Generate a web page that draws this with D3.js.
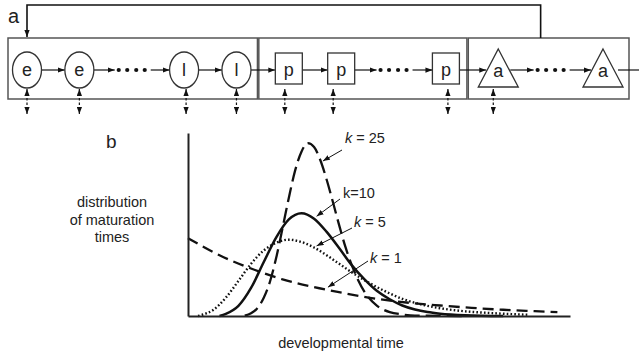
<!DOCTYPE html>
<html>
<head>
<meta charset="utf-8">
<script src="https://cdn.jsdelivr.net/npm/d3@7"></script>
<style>
  body { margin: 0; background: #fff; }
  text { font-family: "Liberation Sans", Arial, sans-serif; fill: #222; }
</style>
</head>
<body>
<div id="fig"></div>
<script>
// 1: DATA
// panel a: life-cycle stages
const stageLabels = ["e", "e", "", "l", "l", "p", "p", "", "p", "a", "", "a"];
const stageShapes = ["ellipse", "ellipse", "dots", "ellipse", "ellipse", "rect", "rect", "dots", "rect", "tri", "dots", "tri"];
const stageExchange = [1, 1, 0, 1, 1, 1, 1, 0, 1, 1, 0, 0];
const stageBoxes = [[0, 4], [5, 8], [9, 11]];

// panel b: distribution of maturation times (mean development time = 1)
const timeK1 = [0, 0.25, 0.5, 0.75, 1.0, 1.25, 1.5, 1.75, 2.0, 2.25, 2.5, 2.75, 2.93];
const densK1 = [1.00, 0.78, 0.61, 0.47, 0.37, 0.29, 0.22, 0.17, 0.135, 0.105, 0.08, 0.062, 0.05];

const timeK5 = [0.08, 0.1, 0.2, 0.3, 0.4, 0.5, 0.6, 0.7, 0.8, 0.9, 1.0, 1.1, 1.2, 1.3, 1.4, 1.5, 1.6, 1.7, 1.8, 1.9, 2.0, 2.2, 2.4, 2.6, 2.7];
const densK5 = [0, 0.01, 0.077, 0.235, 0.45, 0.67, 0.84, 0.94, 0.98, 0.95, 0.88, 0.78, 0.67, 0.56, 0.46, 0.37, 0.29, 0.22, 0.17, 0.13, 0.1, 0.06, 0.038, 0.022, 0.016];

const timeK10 = [0.25, 0.3, 0.4, 0.5, 0.6, 0.7, 0.8, 0.9, 1.0, 1.1, 1.2, 1.3, 1.4, 1.5, 1.6, 1.7, 1.8, 1.9, 2.0, 2.2, 2.5];
const densK10 = [0, 0.027, 0.13, 0.36, 0.69, 1.01, 1.24, 1.32, 1.25, 1.08, 0.87, 0.65, 0.47, 0.32, 0.215, 0.135, 0.083, 0.05, 0.03, 0.01, 0];

const timeK25 = [0.45, 0.5, 0.55, 0.6, 0.65, 0.7, 0.75, 0.8, 0.85, 0.9, 0.95, 1.0, 1.05, 1.1, 1.15, 1.2, 1.25, 1.3, 1.35, 1.4, 1.5, 1.6, 1.7, 1.8, 2.2];
const densK25 = [0.005, 0.035, 0.10, 0.23, 0.44, 0.75, 1.13, 1.52, 1.87, 2.11, 2.22, 2.17, 2.0, 1.75, 1.46, 1.16, 0.88, 0.65, 0.46, 0.31, 0.13, 0.05, 0.02, 0.005, 0];

const curveLabels = ["k = 25", "k=10", "k = 5", "k = 1"];

// 2: SVG
const W = 639, H = 355;
const svg = d3.select("#fig").append("svg")
    .attr("width", W)
    .attr("height", H);

const defs = svg.append("defs");
defs.append("marker")
    .attr("id", "head")
    .attr("viewBox", "0 0 8 6")
    .attr("refX", 8).attr("refY", 3)
    .attr("markerWidth", 7).attr("markerHeight", 5.5)
    .attr("markerUnits", "userSpaceOnUse")
    .attr("orient", "auto-start-reverse")
    .append("path")
    .attr("d", "M0,0L8,3L0,6Z")
    .attr("fill", "#111");

// 3: PANEL A
const cy = 70;
const xs = d3.scalePoint().domain(d3.range(stageLabels.length)).range([27, 603]);
const halfW = { ellipse: 14.5, rect: 13.5, tri: 12, dots: 17 };
// hand-drawn nudges of the exchange arrows under some stages
const exchangeNudge = { 3: 2, 5: -4, 6: -8, 8: 2, 9: -5 };

const a = svg.append("g");

a.append("text").attr("x", 8).attr("y", 23).style("font-size", "20px").text("a");

// group boxes
stageBoxes.forEach(([s, e], i) => {
    const left = i === 0 ? xs(s) - 19 : xs(s) - 30;
    const right = i === stageBoxes.length - 1 ? xs(e) + 26 : xs(e) + 21;
    a.append("rect")
        .attr("x", left).attr("y", 38)
        .attr("width", right - left).attr("height", 61)
        .attr("fill", "none").attr("stroke", "#555").attr("stroke-width", 1.5);
});

// feedback from adults to eggs
const fbRight = xs(10) - 10;
a.append("path")
    .attr("d", `M${fbRight},38V5H${xs(0)}V37`)
    .attr("fill", "none").attr("stroke", "#111").attr("stroke-width", 1.6)
    .attr("marker-end", "url(#head)");

// arrows between stages
for (let i = 0; i < stageLabels.length - 1; i++) {
    const x1 = xs(i) + halfW[stageShapes[i]] + (stageShapes[i] === "dots" ? 2 : 0);
    const x2 = xs(i + 1) - halfW[stageShapes[i + 1]];
    a.append("line")
        .attr("x1", x1).attr("x2", x2).attr("y1", cy).attr("y2", cy)
        .attr("stroke", "#111").attr("stroke-width", 1.2)
        .attr("marker-end", "url(#head)");
}
a.append("line")
    .attr("x1", xs(11) + 15).attr("x2", W).attr("y1", cy).attr("y2", cy)
    .attr("stroke", "#111").attr("stroke-width", 1.2);

// stage shapes
stageShapes.forEach((shape, i) => {
    const x = xs(i);
    if (shape === "ellipse") {
        a.append("ellipse").attr("cx", x).attr("cy", cy).attr("rx", 14.5).attr("ry", 18)
            .attr("fill", "#fff").attr("stroke", "#333").attr("stroke-width", 1.3);
    } else if (shape === "rect") {
        a.append("rect").attr("x", x - 13.5).attr("y", 53).attr("width", 27).attr("height", 31)
            .attr("fill", "#fff").attr("stroke", "#333").attr("stroke-width", 1.3);
    } else if (shape === "tri") {
        a.append("path").attr("d", `M${x},49L${x + 20},87L${x - 20},87Z`)
            .attr("fill", "#fff").attr("stroke", "#333").attr("stroke-width", 1.3);
    } else {
        [-13, -4.5, 4.5, 13].forEach(dx => {
            a.append("circle").attr("cx", x + dx).attr("cy", cy).attr("r", 2.1).attr("fill", "#111");
        });
    }
    if (stageLabels[i]) {
        a.append("text")
            .attr("x", x).attr("y", shape === "tri" ? 77 : 76)
            .attr("text-anchor", "middle")
            .style("font-size", "18px")
            .text(stageLabels[i]);
    }
    if (stageExchange[i]) {
        const ex = x + (exchangeNudge[i] || 0);
        a.append("line")
            .attr("x1", ex).attr("x2", ex).attr("y1", 89).attr("y2", 114)
            .attr("stroke", "#111").attr("stroke-width", 1.2)
            .attr("stroke-dasharray", "2.5,2")
            .attr("marker-start", "url(#head)")
            .attr("marker-end", "url(#head)");
    }
});

// 4: PANEL B
const xScale = d3.scaleLinear().domain([0, 3.03]).range([188, 570]);
const yScale = d3.scaleLinear().domain([0, 2.35]).range([316, 133]);

const b = svg.append("g");
b.append("text").attr("x", 106).attr("y", 148).style("font-size", "19px").text("b");

const series = [
    { t: timeK25, d: densK25, dash: "15,6", w: 2.3 },
    { t: timeK10, d: densK10, dash: null, w: 2.5 },
    { t: timeK5, d: densK5, dash: "1.6,2.2", w: 2.4 },
    { t: timeK1, d: densK1, dash: "11,6", w: 2.3 }
];

const line = d3.line()
    .x(p => xScale(p[0]))
    .y(p => yScale(p[1]))
    .curve(d3.curveMonotoneX);

b.selectAll(".dist")
    .data(series)
    .enter()
    .append("path")
    .attr("class", "dist")
    .attr("d", s => line(s.t.map((t, i) => [t, s.d[i]])))
    .attr("fill", "none")
    .attr("stroke", "#111")
    .attr("stroke-width", s => s.w)
    .attr("stroke-dasharray", s => s.dash);

// axes: plain lines, no ticks
b.append("g")
    .attr("transform", `translate(0,${yScale(0)})`)
    .call(d3.axisBottom(xScale).tickValues([]).tickSizeOuter(0))
    .select(".domain").attr("stroke", "#222").attr("stroke-width", 2);
b.append("g")
    .attr("transform", `translate(${xScale(0)},0)`)
    .call(d3.axisLeft(yScale).tickValues([]).tickSizeOuter(0))
    .select(".domain").attr("stroke", "#222").attr("stroke-width", 2);

// curve annotations: tip on the curve (data units), label and tail in px
const notes = [
    { tip: [1.07, 1.99], tail: [342, 150], text: [345, 143] },
    { tip: [1.02, 1.28], tail: [340, 199], text: [343, 198] },
    { tip: [1.02, 0.9], tail: [352, 228], text: [354, 227] },
    { tip: [1.11, 0.37], tail: [368, 261], text: [370, 263] }
];
notes.forEach((n, i) => {
    b.append("line")
        .attr("x1", n.tail[0]).attr("y1", n.tail[1])
        .attr("x2", xScale(n.tip[0])).attr("y2", yScale(n.tip[1]))
        .attr("stroke", "#111").attr("stroke-width", 1)
        .attr("marker-end", "url(#head)");
    const t = b.append("text")
        .attr("x", n.text[0]).attr("y", n.text[1])
        .style("font-size", "14.5px");
    const lab = curveLabels[i];
    t.append("tspan").style("font-style", lab.includes(" ") ? "italic" : "normal").text("k");
    t.append("tspan").text(lab.slice(1));
});

// axis titles
b.append("text")
    .attr("text-anchor", "middle")
    .style("font-size", "14.5px")
    .selectAll("tspan")
    .data(["distribution", "of maturation", "times"])
    .enter()
    .append("tspan")
    .attr("x", 112)
    .attr("y", (d, i) => 207 + i * 17.5)
    .text(d => d);

b.append("text")
    .attr("x", 341).attr("y", 348)
    .attr("text-anchor", "middle")
    .style("font-size", "14.5px")
    .text("developmental time");
</script>
</body>
</html>
